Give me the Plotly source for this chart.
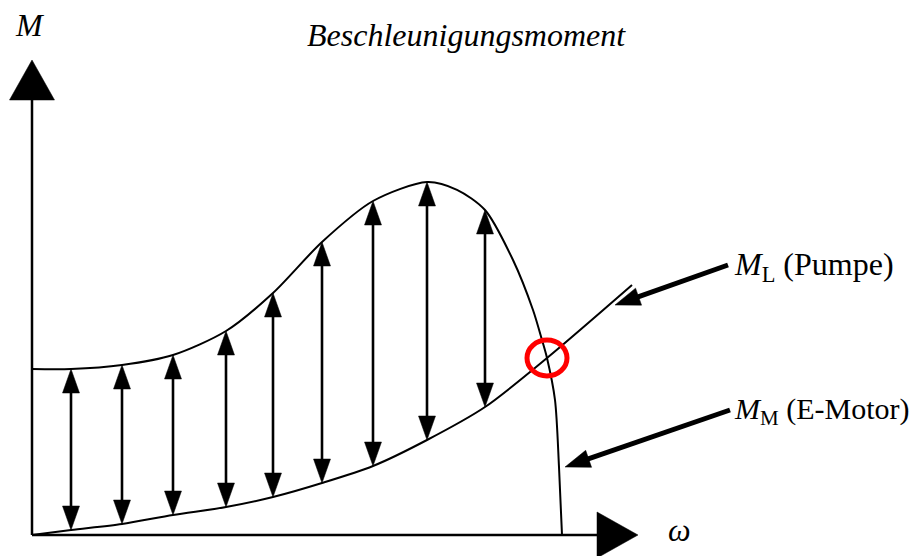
import numpy as np
import plotly.graph_objects as go

# ---------------- data (omega in arbitrary units, torque in arbitrary units) -------------
omega_motor = [0, 0.78, 1.8, 2.82, 3.88, 4.82, 5.8, 6.82, 7.9, 8.5, 9.06, 9.62, 10.02, 10.2, 10.3, 10.46, 10.54, 10.6]
torque_motor = [4.15, 4.15, 4.25, 4.5, 5.1, 6.05, 7.325, 8.35, 8.825, 8.63, 8.125, 6.875, 5.625, 4.875, 4.425, 3.375, 1.7, 0]

omega_pump = [0, 0.78, 1.8, 2.82, 3.88, 4.82, 5.8, 6.82, 7.9, 9.06, 10.3, 12.0]
torque_pump = [0, 0.125, 0.275, 0.5, 0.7, 0.95, 1.3, 1.725, 2.375, 3.2, 4.425, 6.25]

arrow_omega = [0.78, 1.8, 2.82, 3.88, 4.82, 5.8, 6.82, 7.9, 9.06]
crossing_index = 14  # index in the motor arrays where both curves intersect

# label pointer arrows (tail, tip) in data units
ml_tail, ml_tip = (13.92, 6.75), (11.66, 5.75)
mm_tail, mm_tip = (13.96, 3.125), (10.66, 1.7)

axis_x_end, axis_y_end = 12.12, 11.875

# ---------------- scale (pixels per data unit) -------------
SX, SY = 50.0, 40.0
W, H = 922, 556
PAGE = 8  # default page margin of the html body
OX, OY = 32 - PAGE, 535 - PAGE  # figure pixel position of the origin

fig = go.Figure()


def tri(tip, direction, L, Wd):
    ux, uy = direction
    n = (ux ** 2 + uy ** 2) ** 0.5
    ux, uy = ux / n, uy / n
    px_, py_ = -uy, ux
    TX, TY = tip[0] * SX, tip[1] * SY
    bx, by = TX - ux * L, TY - uy * L
    xs = [TX, bx + px_ * Wd / 2, bx - px_ * Wd / 2, TX]
    ys = [TY, by + py_ * Wd / 2, by - py_ * Wd / 2, TY]
    return [v / SX for v in xs], [v / SY for v in ys]


def add_tri(tip, direction, L, Wd):
    xs, ys = tri(tip, direction, L, Wd)
    fig.add_trace(go.Scatter(x=xs, y=ys, mode="lines", fill="toself", fillcolor="black",
                             line=dict(color="black", width=0.5), hoverinfo="skip", showlegend=False))


def add_line(xs, ys, w, shape="linear"):
    fig.add_trace(go.Scatter(x=xs, y=ys, mode="lines", line=dict(color="black", width=w, shape=shape,
                                                                  smoothing=0.8),
                             hoverinfo="skip", showlegend=False))


def shaft(a, b, back_a, back_b, w):
    ax_, ay_ = a[0] * SX, a[1] * SY
    bx_, by_ = b[0] * SX, b[1] * SY
    dx, dy = bx_ - ax_, by_ - ay_
    n = (dx ** 2 + dy ** 2) ** 0.5
    ux, uy = dx / n, dy / n
    p0 = ((ax_ + ux * back_a) / SX, (ay_ + uy * back_a) / SY)
    p1 = ((bx_ - ux * back_b) / SX, (by_ - uy * back_b) / SY)
    add_line([p0[0], p1[0]], [p0[1], p1[1]], w)
    return (ux, uy)


# axes
add_line([0, 0], [0, axis_y_end - 40 / SY + 0.05], 2.5)
add_tri((0, axis_y_end), (0, 1), 40, 45)
add_line([0, axis_x_end - 41 / SX + 0.05], [0, 0], 2.5)
add_tri((axis_x_end, 0), (1, 0), 41, 46)

# curves
add_line(omega_motor, torque_motor, 2, shape="spline")
add_line(omega_pump, torque_pump, 2, shape="spline")

# accelerating torque arrows
for w_ in arrow_omega:
    top = float(np.interp(w_, omega_motor[:12], torque_motor[:12]))
    bot = float(np.interp(w_, omega_pump, torque_pump))
    shaft((w_, bot), (w_, top), 20, 20, 2.6)
    add_tri((w_, top), (0, 1), 24, 17)
    add_tri((w_, bot), (0, -1), 24, 17)

# label pointers
for tail, tip in [(ml_tail, ml_tip), (mm_tail, mm_tip)]:
    u = shaft(tail, tip, 0, 20, 5)
    add_tri(tip, u, 25, 18)

# intersection marker
cx, cy = omega_motor[crossing_index], torque_motor[crossing_index]
fig.add_shape(type="circle", xref="x", yref="y",
              x0=cx - 20 / SX, x1=cx + 20 / SX, y0=cy - 18 / SY, y1=cy + 18 / SY,
              line=dict(color="#ff0000", width=5))

FONT = "Liberation Serif, Times New Roman, serif"
fs = 32


def px2x(p):
    return (p - PAGE - OX) / SX


def px2y(p):
    return (OY - (p - PAGE)) / SY


fig.add_annotation(x=px2x(466), y=px2y(35), xref="x", yref="y",
                   text="<i>Beschleunigungsmoment</i>", showarrow=False,
                   font=dict(family=FONT, size=fs, color="black"), xanchor="center", yanchor="middle")
fig.add_annotation(x=px2x(30), y=px2y(25), xref="x", yref="y",
                   text="<i>M</i>", showarrow=False,
                   font=dict(family=FONT, size=fs, color="black"), xanchor="center", yanchor="middle")
fig.add_annotation(x=px2x(679), y=px2y(530), xref="x", yref="y",
                   text="<i>ω</i>", showarrow=False,
                   font=dict(family=FONT, size=fs, color="black"), xanchor="center", yanchor="middle")
fig.add_annotation(x=ml_tail[0] + 4 / SX, y=ml_tail[1] - 1 / SY, xref="x", yref="y",
                   text="<i>M</i><sub>L</sub> (Pumpe)", showarrow=False,
                   font=dict(family=FONT, size=fs, color="black"), xanchor="left", yanchor="middle")
fig.add_annotation(x=mm_tail[0] + 2 / SX, y=mm_tail[1] - 1 / SY, xref="x", yref="y",
                   text="<i>M</i><sub>M</sub> (E-Motor)", showarrow=False,
                   font=dict(family=FONT, size=30, color="black"), xanchor="left", yanchor="middle")

fig.update_layout(
    width=W, height=H,
    margin=dict(l=0, r=0, t=0, b=0),
    paper_bgcolor="white", plot_bgcolor="white",
    xaxis=dict(range=[-OX / SX, (W - OX) / SX], visible=False, fixedrange=True),
    yaxis=dict(range=[-(H - OY) / SY, OY / SY], visible=False, fixedrange=True),
    showlegend=False,
)

fig.write_html("out.html")
